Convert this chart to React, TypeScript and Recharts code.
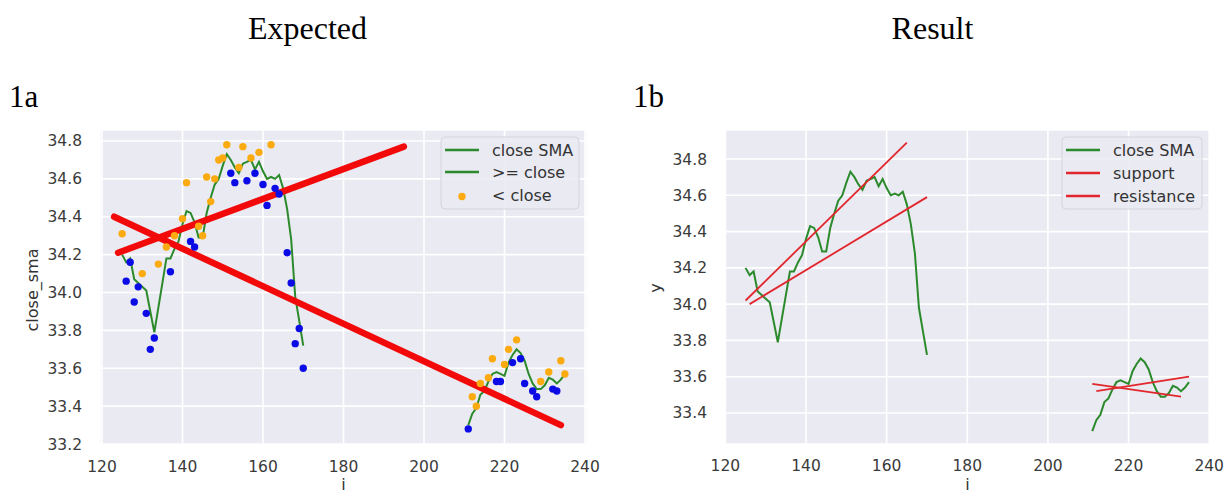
import React from "react";
import { ComposedChart, Line, Scatter, XAxis, YAxis, CartesianGrid } from "recharts";

// shared x ticks
const xTicks = [120, 140, 160, 180, 200, 220, 240];
const yTicksExpected = [33.2, 33.4, 33.6, 33.8, 34.0, 34.2, 34.4, 34.6, 34.8];
const yTicksResult = [33.4, 33.6, 33.8, 34.0, 34.2, 34.4, 34.6, 34.8];

// close SMA, two segments (i = 125..170 and 211..235)
const smaLeftStart = 125;
const smaLeft = [
  34.2, 34.16, 34.18, 34.07, 34.05, 34.03, 34.01, 33.9, 33.79, 33.92,
  34.05, 34.18, 34.18, 34.23, 34.27, 34.36, 34.43, 34.42, 34.37, 34.29,
  34.29, 34.42, 34.5, 34.57, 34.6, 34.67, 34.73, 34.7, 34.66, 34.63,
  34.68, 34.69, 34.7, 34.65, 34.69, 34.64, 34.6, 34.61, 34.6, 34.62,
  34.55, 34.44, 34.28, 33.98, 33.85, 33.72,
];
const smaRightStart = 211;
const smaRight = [
  33.3, 33.36, 33.39, 33.46, 33.48, 33.53, 33.57, 33.58, 33.57, 33.56,
  33.63, 33.67, 33.7, 33.68, 33.64, 33.57, 33.52, 33.49, 33.49, 33.51,
  33.55, 33.54, 33.52, 33.54, 33.57,
];

// ">= close" points (blue)
const blueI = [126, 127, 128, 129, 131, 132, 133, 137, 142, 143, 152, 153, 156, 158, 160, 161, 163, 164, 166, 167, 168, 169, 170, 211, 218, 219, 222, 224, 225, 227, 228, 232, 233];
const blueV = [34.06, 34.16, 33.95, 34.03, 33.89, 33.7, 33.76, 34.11, 34.27, 34.24, 34.63, 34.58, 34.59, 34.63, 34.57, 34.46, 34.55, 34.52, 34.21, 34.05, 33.73, 33.81, 33.6, 33.28, 33.53, 33.53, 33.63, 33.65, 33.52, 33.48, 33.45, 33.49, 33.48];

// "< close" points (orange)
const orangeI = [125, 130, 134, 136, 138, 140, 141, 144, 145, 146, 147, 148, 149, 150, 151, 154, 155, 157, 159, 162, 212, 213, 214, 216, 217, 220, 221, 223, 229, 231, 234, 235];
const orangeV = [34.31, 34.1, 34.15, 34.24, 34.3, 34.39, 34.58, 34.35, 34.3, 34.61, 34.48, 34.6, 34.7, 34.71, 34.78, 34.66, 34.77, 34.71, 34.74, 34.78, 33.45, 33.4, 33.52, 33.55, 33.65, 33.62, 33.7, 33.75, 33.53, 33.58, 33.64, 33.57];

// expected trend lines (thick red)
const expDownI = [123, 234];
const expDownV = [34.4, 33.3];
const expUpI = [124, 195];
const expUpV = [34.21, 34.77];

// result support / resistance lines
const resUpperI = [125, 165];
const resUpperV = [34.02, 34.89];
const resLowerI = [126, 170];
const resLowerV = [34.0, 34.59];
const resRightDownI = [211, 233];
const resRightDownV = [33.56, 33.49];
const resRightUpI = [212, 235];
const resRightUpV = [33.52, 33.6];

const toPoints = (xs: number[], ys: number[]) => xs.map((i, k) => ({ i, v: ys[k] }));
const fromStart = (start: number, ys: number[]) => ys.map((v, k) => ({ i: start + k, v }));

const smaLeftData = fromStart(smaLeftStart, smaLeft);
const smaRightData = fromStart(smaRightStart, smaRight);

const GREEN = "#2b8a2b";
const RED_RESULT = "#e2262d";
const TICK_FONT = { fontFamily: "DejaVu Sans", fontSize: 15.5, fill: "#3a3a3a" };
const TEXT_FONT = "DejaVu Sans";

const dot = (color: string) => (props: any) =>
  <circle cx={props.cx} cy={props.cy} r={3.7} fill={color} />;

function Legend({ x, y, w, rows }: { x: number; y: number; w: number; rows: { label: string; color: string; kind: "line" | "dot"; ry: number }[] }) {
  return (
    <g>
      <rect x={x} y={y} width={w} height={72} rx={4} fill="#EAEAF2" fillOpacity={0.85} stroke="#d4d4dc" />
      {rows.map((r) => (
        <g key={r.label}>
          {r.kind === "line" ? (
            <line x1={x + 4} x2={x + 38} y1={r.ry} y2={r.ry} stroke={r.color} strokeWidth={2.5} />
          ) : (
            <circle cx={x + 21} cy={r.ry + 1} r={3.7} fill={r.color} />
          )}
          <text x={x + 51} y={r.ry + 5.5} fontFamily={TEXT_FONT} fontSize={16} fill="#333">
            {r.label}
          </text>
        </g>
      ))}
    </g>
  );
}

export default function App() {
  return (
    <div style={{ position: "absolute", left: 0, top: 0, width: 1225, height: 493, background: "#fff", overflow: "hidden" }}>
      {/* Expected */}
      <div style={{ position: "absolute", left: 0, top: 120 }}>
        <ComposedChart width={600} height={373} margin={{ top: 10, right: 13, bottom: 8, left: 40 }}>
          <CartesianGrid fill="#EAEAF2" stroke="#fff" strokeWidth={1.6} />
          <XAxis type="number" dataKey="i" domain={[119.5, 240.5]} ticks={xTicks} allowDataOverflow
            axisLine={false} tickLine={false} tickSize={0} tickMargin={16} height={40} interval={0} tick={TICK_FONT} />
          <YAxis type="number" dataKey="v" domain={[33.195, 34.858]} ticks={yTicksExpected} allowDataOverflow
            axisLine={false} tickLine={false} tickSize={0} tickMargin={18} width={60} interval={0} tick={TICK_FONT}
            tickFormatter={(v: number) => v.toFixed(1)} />
          <Line data={smaLeftData} dataKey="v" type="linear" stroke={GREEN} strokeWidth={2} dot={false} activeDot={false} isAnimationActive={false} />
          <Line data={smaRightData} dataKey="v" type="linear" stroke={GREEN} strokeWidth={2} dot={false} activeDot={false} isAnimationActive={false} />
          <Scatter data={toPoints(blueI, blueV)} dataKey="v" shape={dot("#0b0be6")} isAnimationActive={false} />
          <Scatter data={toPoints(orangeI, orangeV)} dataKey="v" shape={dot("#fbaa10")} isAnimationActive={false} />
          <Line data={toPoints(expDownI, expDownV)} dataKey="v" type="linear" stroke="#f20a0a" strokeWidth={6.5} strokeLinecap="round" dot={false} activeDot={false} isAnimationActive={false} />
          <Line data={toPoints(expUpI, expUpV)} dataKey="v" type="linear" stroke="#f20a0a" strokeWidth={6.5} strokeLinecap="round" dot={false} activeDot={false} isAnimationActive={false} />
        </ComposedChart>
      </div>

      {/* Result */}
      <div style={{ position: "absolute", left: 620, top: 120 }}>
        <ComposedChart width={605} height={373} margin={{ top: 10, right: 15, bottom: 8, left: 45 }}>
          <CartesianGrid fill="#EAEAF2" stroke="#fff" strokeWidth={1.6} />
          <XAxis type="number" dataKey="i" domain={[119.9, 240.2]} ticks={xTicks} allowDataOverflow
            axisLine={false} tickLine={false} tickSize={0} tickMargin={16} height={41} interval={0} tick={TICK_FONT} />
          <YAxis type="number" dataKey="v" domain={[33.229, 34.96]} ticks={yTicksResult} allowDataOverflow
            axisLine={false} tickLine={false} tickSize={0} tickMargin={18} width={60} interval={0} tick={TICK_FONT}
            tickFormatter={(v: number) => v.toFixed(1)} />
          <Line data={smaLeftData} dataKey="v" type="linear" stroke={GREEN} strokeWidth={2} dot={false} activeDot={false} isAnimationActive={false} />
          <Line data={smaRightData} dataKey="v" type="linear" stroke={GREEN} strokeWidth={2} dot={false} activeDot={false} isAnimationActive={false} />
          <Line data={toPoints(resUpperI, resUpperV)} dataKey="v" type="linear" stroke={RED_RESULT} strokeWidth={1.8} dot={false} activeDot={false} isAnimationActive={false} />
          <Line data={toPoints(resLowerI, resLowerV)} dataKey="v" type="linear" stroke={RED_RESULT} strokeWidth={1.8} dot={false} activeDot={false} isAnimationActive={false} />
          <Line data={toPoints(resRightDownI, resRightDownV)} dataKey="v" type="linear" stroke={RED_RESULT} strokeWidth={1.8} dot={false} activeDot={false} isAnimationActive={false} />
          <Line data={toPoints(resRightUpI, resRightUpV)} dataKey="v" type="linear" stroke={RED_RESULT} strokeWidth={1.8} dot={false} activeDot={false} isAnimationActive={false} />
        </ComposedChart>
      </div>

      {/* titles, axis labels, legends */}
      <svg width={1225} height={493} style={{ position: "absolute", left: 0, top: 0, pointerEvents: "none" }}>
        <text x={307.5} y={39} textAnchor="middle" fontFamily="Liberation Serif" fontSize={32} fill="#000">Expected</text>
        <text x={932.5} y={39} textAnchor="middle" fontFamily="Liberation Serif" fontSize={32} fill="#000">Result</text>
        <text x={9} y={106.7} fontFamily="Liberation Serif" fontSize={31} fill="#000">1a</text>
        <text x={633} y={106.7} fontFamily="Liberation Serif" fontSize={31} fill="#000">1b</text>

        <text x={38} y={290} transform="rotate(-90 38 290)" textAnchor="middle" fontFamily={TEXT_FONT} fontSize={16} fill="#333">close_sma</text>
        <text x={661} y={288} transform="rotate(-90 661 288)" textAnchor="middle" fontFamily={TEXT_FONT} fontSize={16} fill="#333">y</text>
        <text x={343.5} y={490} textAnchor="middle" fontFamily={TEXT_FONT} fontSize={16} fill="#333">i</text>
        <text x={967.5} y={490} textAnchor="middle" fontFamily={TEXT_FONT} fontSize={16} fill="#333">i</text>

        <Legend x={441} y={137} w={138} rows={[
          { label: "close SMA", color: GREEN, kind: "line", ry: 150 },
          { label: ">= close", color: GREEN, kind: "line", ry: 172 },
          { label: "< close", color: "#fbaa10", kind: "dot", ry: 195.5 },
        ]} />
        <Legend x={1062} y={137} w={140} rows={[
          { label: "close SMA", color: GREEN, kind: "line", ry: 150 },
          { label: "support", color: RED_RESULT, kind: "line", ry: 173 },
          { label: "resistance", color: RED_RESULT, kind: "line", ry: 196 },
        ]} />
      </svg>
    </div>
  );
}
